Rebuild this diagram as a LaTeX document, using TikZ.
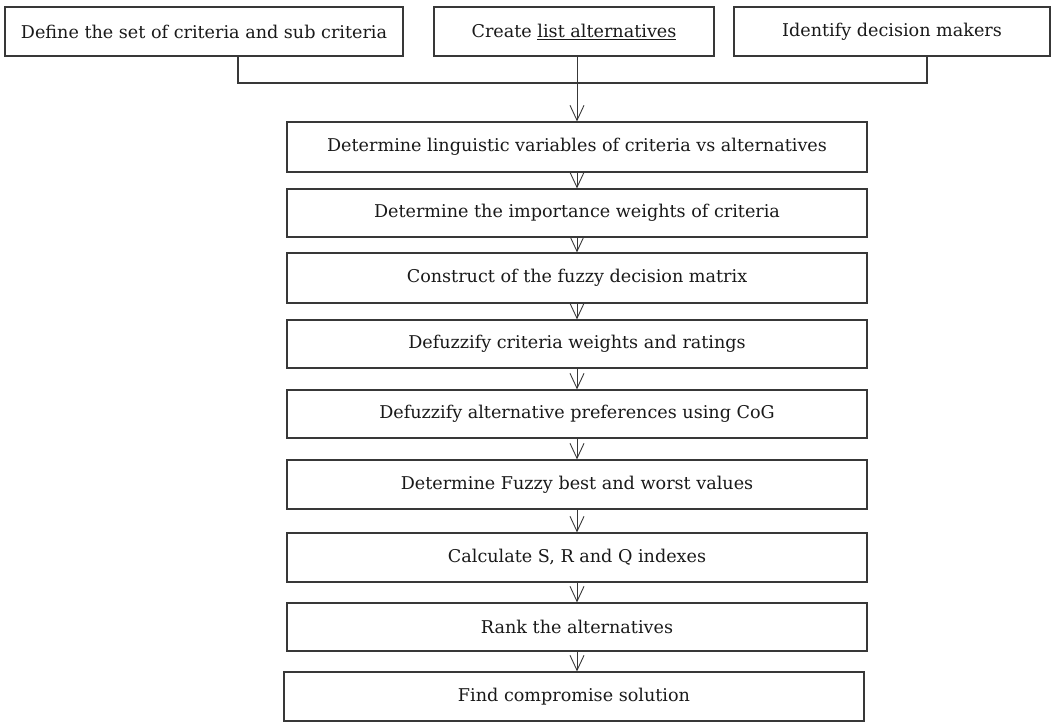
\documentclass[tikz,border=0pt]{standalone}
\usepackage{fontspec}
\setmainfont{DejaVu Serif}
\usetikzlibrary{arrows.meta}
\begin{document}
\begin{tikzpicture}[x=1pt,y=-1pt,
  box/.style={draw=black!78, line width=1.2pt, rectangle, inner sep=0pt, font=\fontsize{17.6}{20}\selectfont, text=black!90},
  arr/.style={draw=black!78, line width=0.9pt, -{Straight Barb[length=15pt,width=14pt,line width=0.9pt]}},
  conn/.style={draw=black!78, line width=1.1pt}]
\useasboundingbox (0,0) rectangle (1056,723);
% top row
\node[box, minimum width=398pt, minimum height=49pt] (t1) at (204,31.5) {Define the set of criteria and sub criteria};
\node[box, minimum width=280pt, minimum height=49pt] (t2) at (574,31.5) {Create \underline{list alternatives}};
\node[box, minimum width=316pt, minimum height=49pt] (t3) at (892,31.5) {Identify decision makers};
% main column
\node[box, minimum width=580pt, minimum height=50pt] (m1) at (577,147) {Determine linguistic variables of criteria vs alternatives};
\node[box, minimum width=580pt, minimum height=48pt] (m2) at (577,213) {Determine the importance weights of criteria};
\node[box, minimum width=580pt, minimum height=50pt] (m3) at (577,278) {Construct of the fuzzy decision matrix};
\node[box, minimum width=580pt, minimum height=48pt] (m4) at (577,344) {Defuzzify criteria weights and ratings};
\node[box, minimum width=580pt, minimum height=48pt] (m5) at (577,414) {Defuzzify alternative preferences using CoG};
\node[box, minimum width=580pt, minimum height=49pt] (m6) at (577,484.5) {Determine Fuzzy best and worst values};
\node[box, minimum width=580pt, minimum height=49pt] (m7) at (577,557.5) {Calculate S, R and Q indexes};
\node[box, minimum width=580pt, minimum height=48pt] (m8) at (577,627) {Rank the alternatives};
\node[box, minimum width=580pt, minimum height=49pt] (m9) at (574,696.5) {Find compromise solution};
% top connector
\coordinate (j1) at (238,83);
\coordinate (j3) at (927,83);
\draw[conn] (j1 |- t1.south) -- (j1) -- (j3) -- (j3 |- t3.south);
\draw[arr] (t2.south -| m1.north) -- (m1.north);
% chain
\draw[arr] (m1.south) -- (m2.north);
\draw[arr] (m2.south) -- (m3.north);
\draw[arr] (m3.south) -- (m4.north);
\draw[arr] (m4.south) -- (m5.north);
\draw[arr] (m5.south) -- (m6.north);
\draw[arr] (m6.south) -- (m7.north);
\draw[arr] (m7.south) -- (m8.north);
\draw[arr] (m8.south) -- (m8.south |- m9.north);
\end{tikzpicture}
\end{document}
